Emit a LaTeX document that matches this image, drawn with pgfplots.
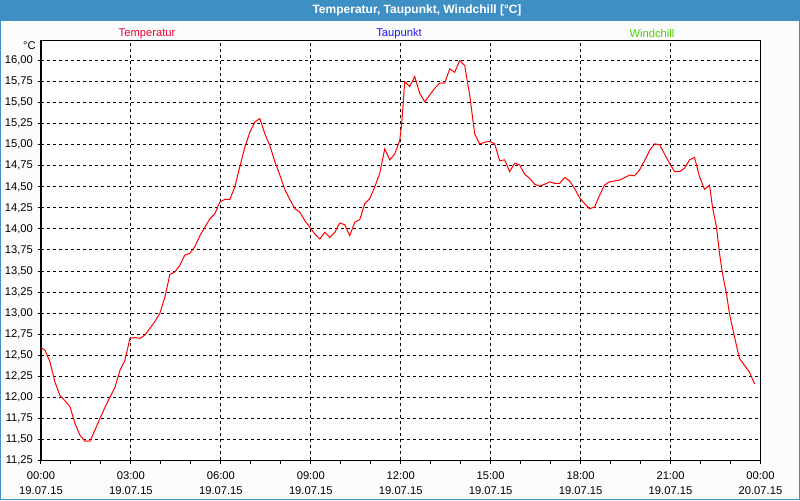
\documentclass[border=0pt]{standalone}
\usepackage{fontspec}
\setmainfont{Liberation Sans}
\usepackage{pgfplots}
\pgfplotsset{compat=1.18}
\usepackage{pgfplotstable}
\definecolor{barblue}{RGB}{62,143,196}
\definecolor{tempred}{RGB}{255,0,0}
\definecolor{labred}{RGB}{240,0,50}
\definecolor{labblue}{RGB}{30,20,255}
\definecolor{labgreen}{RGB}{70,210,0}
\definecolor{bgcol}{RGB}{252,252,253}

\pgfplotstableread{
min val
0 12.59
8 12.56
18 12.42
28 12.18
38 12.02
48 11.96
58 11.89
68 11.69
78 11.55
88 11.48
98 11.48
108 11.61
118 11.75
128 11.88
138 12.00
148 12.12
158 12.32
168 12.44
178 12.70
188 12.71
198 12.70
208 12.74
218 12.82
228 12.90
238 13.00
248 13.19
258 13.46
268 13.49
278 13.57
288 13.69
298 13.71
308 13.79
318 13.92
328 14.02
338 14.12
348 14.18
358 14.32
368 14.35
378 14.35
388 14.50
398 14.74
408 14.97
418 15.15
428 15.27
438 15.31
448 15.13
458 14.99
468 14.80
478 14.64
488 14.47
498 14.35
508 14.24
518 14.20
528 14.10
538 14.02
548 13.94
558 13.88
568 13.96
578 13.90
588 13.96
598 14.07
608 14.05
618 13.92
628 14.08
638 14.11
648 14.30
658 14.36
668 14.50
678 14.66
688 14.95
698 14.82
708 14.89
718 15.05
722 15.25
728 15.75
738 15.69
748 15.81
758 15.61
768 15.51
778 15.59
788 15.67
798 15.73
808 15.73
818 15.90
828 15.86
838 16.00
848 15.94
858 15.59
868 15.13
878 15.01
888 15.03
898 15.04
908 15.01
918 14.81
928 14.82
938 14.68
948 14.78
958 14.76
968 14.65
978 14.60
988 14.53
998 14.51
1008 14.53
1018 14.56
1028 14.54
1038 14.54
1048 14.61
1058 14.57
1068 14.48
1078 14.37
1088 14.30
1098 14.24
1108 14.26
1118 14.40
1128 14.52
1138 14.56
1148 14.57
1158 14.58
1168 14.61
1178 14.64
1188 14.63
1198 14.70
1208 14.81
1218 14.93
1228 15.01
1238 15.00
1248 14.89
1258 14.78
1268 14.68
1278 14.68
1288 14.72
1298 14.82
1308 14.85
1318 14.62
1328 14.47
1338 14.52
1344 14.26
1352 14.02
1358 13.71
1364 13.47
1372 13.23
1378 12.99
1388 12.72
1398 12.46
1408 12.38
1418 12.30
1428 12.16
}\tempdata

\begin{document}
\begin{tikzpicture}
\fill[bgcol] (0,0) rectangle (600pt,375pt);
\fill[barblue] (0,359.25pt) rectangle (600pt,375pt);
\draw[barblue, line width=0.75pt] (0.375pt,0.375pt) rectangle (599.625pt,374.625pt);
\node[text=white, font=\fontsize{9}{10}\selectfont\bfseries] at (312.75pt,367.1pt) {Temperatur, Taupunkt, Windchill [°C]};
\node[text=labred, font=\fontsize{8.4}{9}\selectfont] at (110.25pt,349.5pt) {Temperatur};
\node[text=labblue, font=\fontsize{8.4}{9}\selectfont] at (299.25pt,349.5pt) {Taupunkt};
\node[text=labgreen, font=\fontsize{8.4}{9}\selectfont] at (489pt,349.5pt) {Windchill};
\begin{axis}[
  at={(30.75pt,29.625pt)}, anchor=south west,
  scale only axis, width=539.6pt, height=315pt,
  axis background/.style={fill=white},
  xmin=0, xmax=1440, ymin=11.25, ymax=16.2375,
  xtick={0,180,360,540,720,900,1080,1260,1440},
  minor xtick={60,120,240,300,420,480,600,660,780,840,960,1020,1140,1200,1320,1380},
  xticklabels={{00:00\\19.07.15},{03:00\\19.07.15},{06:00\\19.07.15},{09:00\\19.07.15},{12:00\\19.07.15},{15:00\\19.07.15},{18:00\\19.07.15},{21:00\\19.07.15},{00:00\\20.07.15}},
  ytick={11.25,11.5,11.75,12,12.25,12.5,12.75,13,13.25,13.5,13.75,14,14.25,14.5,14.75,15,15.25,15.5,15.75,16},
  grid=major,
  major grid style={black, line width=0.75pt, dash pattern=on 2.25pt off 2.25pt},
  axis line style={black, line width=0.9pt},
  tick style={black, line width=0.75pt},
  tick align=outside,
  major tick length=2.5pt, minor tick length=2.5pt,
  xtick pos=bottom, ytick pos=left,
  yticklabel style={/pgf/number format/.cd, fixed, fixed zerofill, precision=2, use comma},
  /pgf/number format/assume math mode=true,
  ticklabel style={font=\fontsize{8.4}{11}\selectfont},
  xticklabel style={align=center, yshift=-2.5pt},
]
\addplot[tempred, line width=0.75pt] table[x=min,y=val]{\tempdata};
\end{axis}
\node[anchor=east, font=\fontsize{8.4}{9}\selectfont, inner sep=0pt] at (27pt,340.5pt) {°C};
\useasboundingbox (0,0) rectangle (600pt,375pt);
\end{tikzpicture}
\end{document}
